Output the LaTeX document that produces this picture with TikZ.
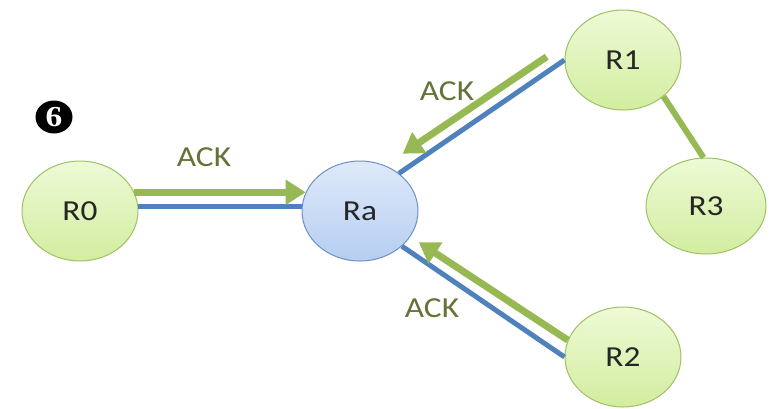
\documentclass[tikz,border=0pt]{standalone}
\usepackage{fontspec}
\setmainfont{Carlito}
\newfontfamily\numserif{Liberation Serif}
\usetikzlibrary{shapes.geometric,arrows.meta}
\definecolor{gfillT}{RGB}{238,250,214}
\definecolor{gfillB}{RGB}{210,237,160}
\definecolor{gdraw}{RGB}{160,192,100}
\definecolor{bfillT}{RGB}{222,234,250}
\definecolor{bfillB}{RGB}{182,206,242}
\definecolor{bdraw}{RGB}{110,142,200}
\definecolor{linkblue}{RGB}{79,129,189}
\definecolor{linkgreen}{RGB}{151,185,84}
\definecolor{acktext}{RGB}{100,115,55}
\newcommand{\wide}[1]{\scalebox{1.15}[1]{#1}}
\tikzset{
  router/.style={ellipse, minimum width=116pt, minimum height=100pt, inner sep=0pt,
    draw=gdraw, line width=1pt, top color=gfillT, bottom color=gfillB,
    text=black!85, font=\fontsize{29}{32}\selectfont},
  hub/.style={router, draw=bdraw, top color=bfillT, bottom color=bfillB},
  bluelink/.style={draw=linkblue, line width=5pt},
  greenarrow/.style={draw=linkgreen, line width=7pt, -{Triangle[length=20pt,width=24pt]}},
  greenlink/.style={draw=linkgreen, line width=6pt},
  ack/.style={text=acktext, font=\fontsize{29}{32}\selectfont, inner sep=0pt},
  stepnum/.style={ellipse, fill=black, minimum width=37pt, minimum height=33pt, inner sep=0pt,
    text=white, font=\numserif\bfseries\fontsize{29}{30}\selectfont}
}
\begin{document}
\begin{tikzpicture}[x=1pt,y=-1pt]
\useasboundingbox (0,0) rectangle (769,408);
\node[router] (R0) at (80,211) {\wide{R0}};
\node[hub] (Ra) at (360,211) {\wide{Ra}};
\node[router] (R1) at (623,60) {\wide{R1}};
\node[router, minimum width=120pt, minimum height=96pt] (R3) at (706,206) {\wide{R3}};
\node[router] (R2) at (623,357) {\wide{R2}};
\node[stepnum] (num) at (54,117) {\wide{6}};

\draw[bluelink] (R0.4) -- (Ra.176);
\draw[bluelink] (Ra.44) -- (R1.180);
\draw[bluelink] (Ra.-40) -- (R2.180);
\draw[greenlink] (R1.-42) -- (R3.93);

\draw[greenarrow] (R0.19) -- (Ra.161);
\draw[greenarrow, shorten <=26pt, shorten >=21pt] (R1.162) -- (Ra.61);
\draw[greenarrow, shorten >=10pt] (R2.163) -- (Ra.-27);

\node[ack] (ack0) at (204,157) {\wide{ACK}};
\node[ack] (ack1) at (447,91) {\wide{ACK}};
\node[ack] (ack2) at (432,308) {\wide{ACK}};
\end{tikzpicture}
\end{document}
